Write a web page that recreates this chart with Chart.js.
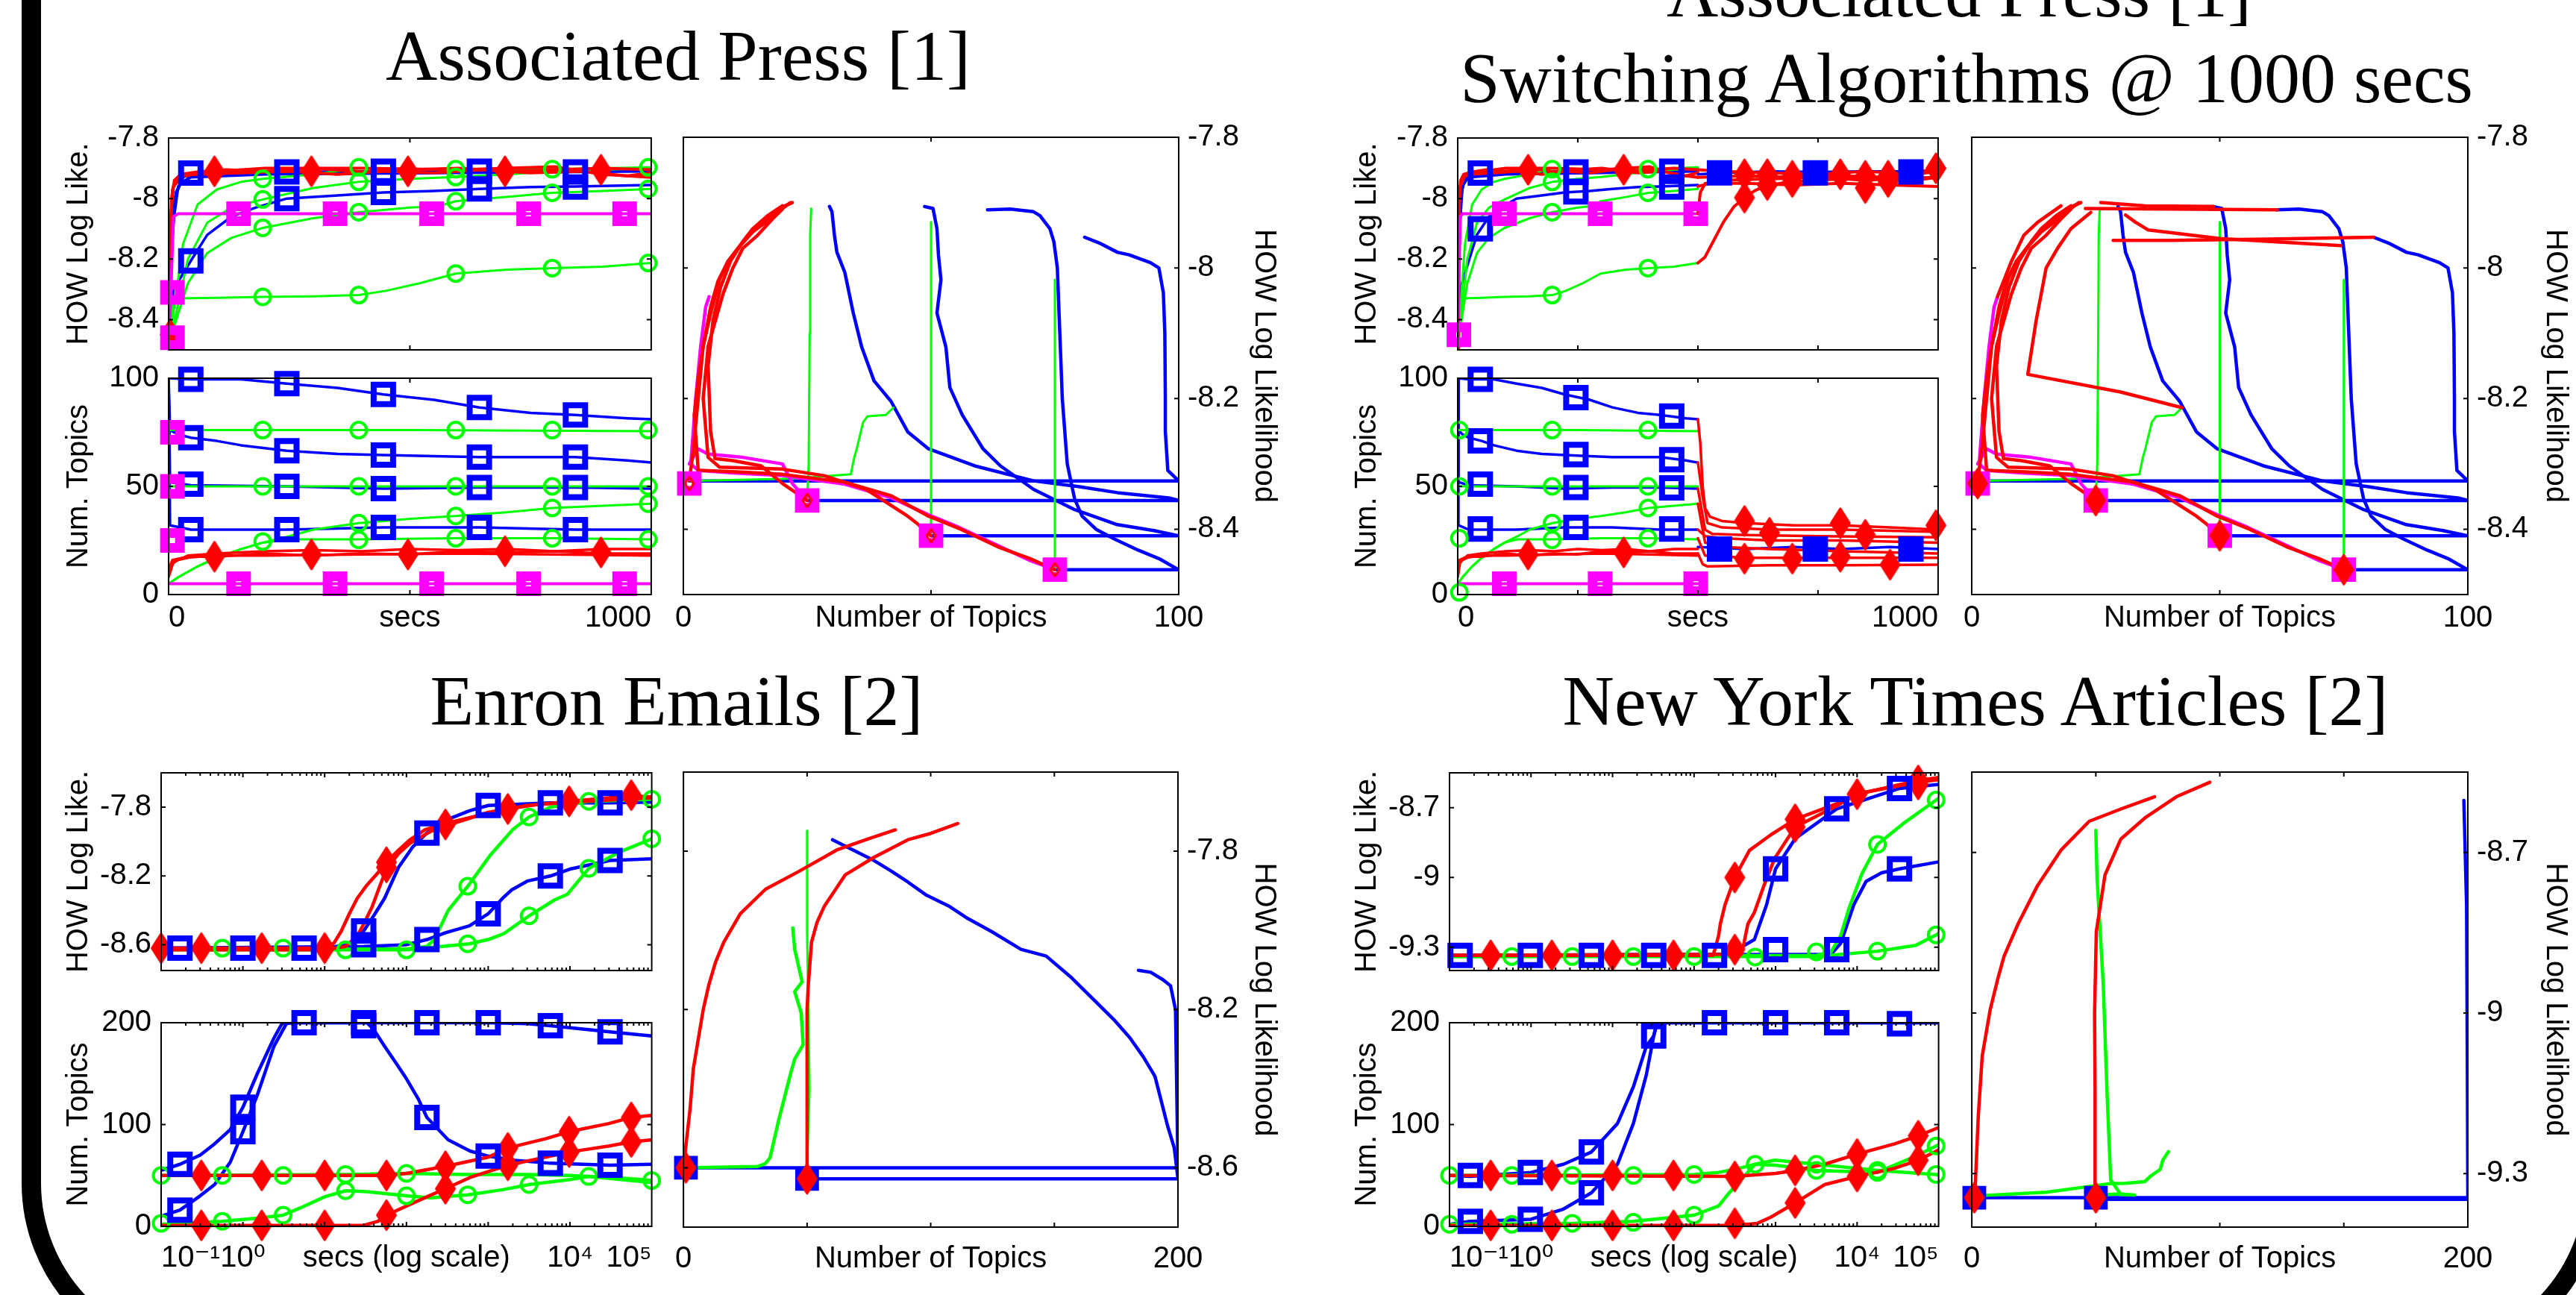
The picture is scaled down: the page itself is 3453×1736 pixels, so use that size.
<!DOCTYPE html>
<html><head><meta charset="utf-8">
<script src="https://cdn.jsdelivr.net/npm/chart.js@4.4.1/dist/chart.umd.min.js"></script>
<style>
html,body{margin:0;padding:0;background:#fff;}
body{position:relative;width:3453px;height:1736px;overflow:hidden;}
.ttl{position:absolute;width:2000px;text-align:center;font-family:'Liberation Serif','Times New Roman',serif;font-size:96px;line-height:96px;color:#000;white-space:nowrap;}
#frame{position:absolute;left:29px;top:-300px;width:3462px;height:2132px;box-sizing:border-box;border:26px solid #000;border-radius:246px;}
</style></head><body>
<div id="frame"></div>
<div class="ttl" style="left:-91px;top:27px">Associated Press [1]</div>
<div class="ttl" style="left:1626px;top:-58px">Associated Press [1]</div>
<div class="ttl" style="left:1636px;top:57px">Switching Algorithms @ 1000 secs</div>
<div class="ttl" style="left:-93px;top:892px">Enron Emails [2]</div>
<div class="ttl" style="left:1648px;top:892px">New York Times Articles [2]</div>
<script>
// ================= DATA =================
// ---- tick values / labels ----
const apSecsTicks = [0, 500, 1000];
const apSecsLabels = ['0', 'secs', '1000'];
const apsSecsTicks = [0, 500, 1000, 1500, 2000];
const apsSecsLabels = ['0', '', 'secs', '', '1000'];
const logTicks = [0.1, 1, 10, 100, 1000, 10000, 100000];
const logLabels = ['10\u207B\u00B9', '10\u2070', '', 'secs (log scale)', '', '10\u2074', '10\u2075'];
const apLLTicks = [-7.8, -8, -8.2, -8.4];
const apLLLabels = ['-7.8', '-8', '-8.2', '-8.4'];
const apTopTicks = [0, 50, 100];
const apTopLabels = ['0', '50', '100'];
const apTopicsXTicks = [0, 50, 100];
const apTopicsXLabels = ['0', 'Number of Topics', '100'];
const bigTopTicks = [0, 100, 200];
const bigTopLabels = ['0', '100', '200'];
const bigTopicsXTicks = [0, 50, 100, 150, 200];
const bigTopicsXLabels = ['0', '', 'Number of Topics', '', '200'];
const enLLTicks = [-7.8, -8.2, -8.6];
const enLLLabels = ['-7.8', '-8.2', '-8.6'];
const nyLLTicks = [-8.7, -9, -9.3];
const nyLLLabels = ['-8.7', '-9', '-9.3'];

// ---- Associated Press: log likelihood vs secs ----
const apLL_red1 = [[0,-8.5],[3,-8.2],[6,-8.0],[12,-7.94],[25,-7.92],[60,-7.912],[120,-7.905],[200,-7.91],[300,-7.9],[400,-7.912],[500,-7.905],[600,-7.9],[700,-7.91],[800,-7.905],[900,-7.9],[1000,-7.905]];
const apLL_red2 = [[0,-8.45],[4,-8.1],[8,-7.97],[20,-7.93],[50,-7.92],[150,-7.915],[250,-7.91],[350,-7.92],[450,-7.91],[550,-7.915],[650,-7.905],[750,-7.915],[850,-7.91],[950,-7.925],[1000,-7.915]];
const apLL_red3 = [[0,-8.4],[5,-8.05],[10,-7.96],[30,-7.925],[100,-7.91],[200,-7.9],[400,-7.9],[600,-7.905],[800,-7.895],[900,-7.92],[1000,-7.93]];
const apLL_redMk = [[3,-8.45],[95,-7.91],[296,-7.91],[496,-7.91],[697,-7.91],[896,-7.905]];
const apLL_blue1 = [[0,-8.5],[5,-8.2],[15,-7.98],[30,-7.93],[46,-7.92],[100,-7.915],[245,-7.912],[445,-7.91],[644,-7.91],[843,-7.91],[1000,-7.908]];
const apLL_blue2 = [[0,-8.48],[8,-8.1],[20,-7.96],[46,-7.925],[150,-7.92],[300,-7.915],[500,-7.915],[700,-7.91],[1000,-7.905]];
const apLL_blue3 = [[0,-8.5],[10,-8.3],[46,-8.206],[80,-8.12],[130,-8.06],[180,-8.03],[245,-8.0],[350,-7.99],[445,-7.98],[550,-7.975],[644,-7.968],[750,-7.962],[843,-7.96],[1000,-7.955]];
const apLL_blue4 = [[0,-8.45],[6,-8.15],[12,-8.0],[25,-7.95],[46,-7.93],[200,-7.92],[600,-7.915],[1000,-7.91]];
const apLL_blueMk = [[46,-7.916],[245,-7.912],[445,-7.91],[644,-7.91],[843,-7.912],[46,-8.206],[245,-8.0],[445,-7.98],[644,-7.968],[843,-7.962]];
const apLL_grn1 = [[0,-8.5],[8,-8.4],[30,-8.15],[60,-8.02],[100,-7.97],[150,-7.945],[195,-7.935],[300,-7.92],[394,-7.9],[500,-7.905],[595,-7.903],[700,-7.905],[795,-7.903],[900,-7.9],[1000,-7.897]];
const apLL_grn2 = [[0,-8.5],[10,-8.42],[40,-8.2],[80,-8.08],[130,-8.03],[195,-8.003],[300,-7.965],[394,-7.945],[500,-7.935],[595,-7.929],[700,-7.92],[795,-7.91],[900,-7.905],[1000,-7.9]];
const apLL_grn3 = [[0,-8.5],[12,-8.42],[40,-8.28],[80,-8.18],[130,-8.13],[195,-8.097],[300,-8.065],[394,-8.045],[500,-8.03],[560,-8.025],[595,-8.009],[700,-7.995],[795,-7.981],[900,-7.975],[1000,-7.968]];
const apLL_grn4 = [[0,-8.5],[10,-8.33],[100,-8.328],[195,-8.325],[300,-8.323],[394,-8.319],[450,-8.305],[520,-8.28],[595,-8.248],[700,-8.235],[795,-8.23],[900,-8.225],[1000,-8.213]];
const apLL_grnMk = [[195,-7.935],[195,-8.003],[195,-8.097],[195,-8.325],[394,-7.897],[394,-7.945],[394,-8.045],[394,-8.319],[595,-7.903],[595,-7.929],[595,-8.009],[595,-8.248],[795,-7.903],[795,-7.981],[795,-8.23],[994,-7.897],[994,-7.968],[994,-8.213]];
const apLL_mag = [[0,-8.5],[5,-8.3],[10,-8.06],[20,-8.05],[500,-8.05],[1000,-8.05]];
const apLL_magMk = [[8,-8.31],[8,-8.46],[145,-8.05],[345,-8.05],[545,-8.05],[746,-8.05],[945,-8.05]];

// ---- Associated Press: number of topics vs secs ----
const apT_blue1 = [[0,100],[46,99.5],[150,99.5],[245,97.5],[350,95.5],[445,92.5],[550,90],[644,86.5],[750,84],[843,83],[950,81.5],[1000,81]];
const apT_blue2 = [[0,100],[3,76],[20,74],[46,72.5],[100,71],[150,69],[245,66.5],[350,65],[445,64.5],[550,64],[644,63.5],[750,63.5],[843,63.5],[950,62],[1000,61]];
const apT_blue3 = [[0,100],[3,52],[46,50.5],[245,50],[445,49],[644,49.5],[843,49.5],[1000,49]];
const apT_blue4 = [[0,100],[3,32],[46,30],[245,30],[445,31],[644,31],[843,30],[1000,30]];
const apT_blueMk = [[46,99.5],[245,97.5],[445,92.5],[644,86.5],[843,83],[46,72.5],[245,66.5],[445,64.5],[644,63.5],[843,63.5],[46,51],[245,50],[445,49],[644,49.5],[843,49.5],[46,30],[245,30],[445,31],[644,31],[843,30]];
const apT_grn1 = [[0,76],[500,76],[1000,75.5]];
const apT_grn2 = [[0,50],[500,50],[1000,50]];
const apT_grn3 = [[0,5],[20,8],[60,13],[100,17],[150,21],[195,24],[250,25.5],[394,25.5],[595,26],[795,26],[1000,25.5]];
const apT_grn4 = [[0,5],[20,8],[60,13],[100,17],[150,21],[195,24],[250,27],[300,30],[394,33],[500,35],[595,36.3],[700,38],[795,40],[900,41],[1000,42]];
const apT_grnMk = [[195,76],[394,76],[595,76],[795,76],[994,76],[195,50],[394,50],[595,50],[795,50],[994,50],[195,24.5],[394,25.3],[595,26],[795,26],[994,25.5],[394,33],[595,36.3],[795,40],[994,42]];
const apT_red1 = [[0,10],[5,14],[20,16],[50,17.5],[95,17.5],[200,19],[296,18],[400,19],[496,18.5],[600,20],[697,19.5],[800,20],[896,19],[1000,19]];
const apT_red2 = [[0,8],[10,15],[40,18],[100,19],[200,20],[300,20.5],[400,20],[500,21],[600,20.5],[700,21],[800,20],[900,21],[1000,21]];
const apT_red3 = [[0,12],[8,16],[30,17],[100,18],[200,18],[400,18.5],[600,19],[800,18.5],[1000,18]];
const apT_redMk = [[95,17.5],[296,18.5],[496,18.5],[697,20],[896,19.5]];
const apT_mag = [[0,5],[1000,5]];
const apT_magMk = [[145,5],[345,5],[545,5],[746,5],[945,5],[8,75],[8,50],[8,25]];

// ---- Associated Press: LL vs number of topics ----
const apR_blue1 = [[1.2,-8.326],[100,-8.326],[97.8,-8.31],[97.3,-8.25],[97.3,-8.2],[97.2,-8.1],[96.9,-8.038],[96,-8.0],[94.3,-7.992],[90,-7.98],[87.6,-7.976],[84,-7.962],[81,-7.953]];
const apR_blue2 = [[75,-8.462],[100,-8.462],[96,-8.445],[91.8,-8.432],[87,-8.415],[83.3,-8.4],[80.5,-8.38],[79,-8.354],[77.5,-8.3],[76.5,-8.2],[76,-8.1],[75.5,-8.0],[74.8,-7.96],[74,-7.94],[72,-7.92],[70.7,-7.914],[66,-7.91],[61.4,-7.911]];
const apR_blue3 = [[50,-8.41],[100,-8.41],[95,-8.402],[87.6,-8.393],[79,-8.37],[70.7,-8.339],[64,-8.303],[60.5,-8.277],[56.3,-8.225],[53.8,-8.183],[53,-8.121],[51.2,-8.069],[52,-8.018],[51.5,-7.98],[51.2,-7.94],[50.4,-7.909],[48.7,-7.906]];
const apR_blue4 = [[25,-8.356],[100,-8.356],[98,-8.352],[87.6,-8.344],[80,-8.335],[70.7,-8.326],[58.8,-8.303],[49.5,-8.277],[45.3,-8.251],[41.9,-8.204],[38.5,-8.173],[36,-8.121],[34.3,-8.069],[32.6,-8.007],[31,-7.976],[30.5,-7.95],[30,-7.914],[29.5,-7.906]];
const apR_grn1 = [[25,-8.356],[25.3,-8.3],[25.5,-8.1],[25.6,-7.95],[25.8,-7.909]];
const apR_grn2 = [[50,-8.41],[50,-8.2],[50,-8.0],[50,-7.93]];
const apR_grn3 = [[75,-8.462],[75,-8.3],[75,-8.1],[75,-8.018]];
const apR_grn4 = [[1.2,-8.326],[20,-8.323],[25,-8.321],[33.8,-8.316],[34.5,-8.29],[35,-8.277],[36.3,-8.236],[37.2,-8.227],[40.9,-8.225],[42.4,-8.214]];
const apR_red1 = [[75,-8.462],[70,-8.445],[63.5,-8.427],[56,-8.4],[49.5,-8.38],[42,-8.349],[32.6,-8.328],[20,-8.316],[10,-8.312],[3,-8.31],[2.2,-8.225],[3,-8.17],[4,-8.12],[5.5,-8.07],[7.3,-8.018],[9,-7.99],[11.5,-7.966],[14,-7.945],[16.6,-7.93],[19,-7.915],[21.6,-7.9]];
const apR_red2 = [[50,-8.41],[47,-8.39],[45.3,-8.38],[36.9,-8.339],[28.4,-8.318],[20,-8.308],[7.3,-8.305],[5,-8.29],[4,-8.2],[5,-8.12],[6.5,-8.08],[8,-8.04],[10,-8.0],[12,-7.97],[15,-7.95],[18,-7.925],[20,-7.91]];
const apR_red3 = [[25,-8.356],[20,-8.33],[15.7,-8.303],[10,-8.295],[6.4,-8.292],[5.5,-8.25],[5,-8.15],[6,-8.08],[7.5,-8.03],[9.5,-7.99],[12,-7.96],[14,-7.94],[17,-7.92],[20,-7.905]];
const apR_red4 = [[1.2,-8.326],[2,-8.28],[3,-8.2],[4,-8.12],[5.5,-8.06],[7,-8.02],[9,-7.99],[11,-7.97],[13,-7.95],[16,-7.93],[19,-7.91],[22,-7.9]];
const apR_mag1 = [[75,-8.462],[70,-8.448],[63.5,-8.425],[55,-8.395],[49.5,-8.378],[42,-8.352],[32.6,-8.331],[20,-8.318],[10,-8.314],[3,-8.31],[1.5,-8.3],[2.5,-8.2],[3.5,-8.12],[4.5,-8.06],[5.2,-8.044]];
const apR_mag2 = [[25,-8.356],[22,-8.33],[20,-8.3],[12,-8.29],[5,-8.285],[3,-8.277],[1.2,-8.3]];
const apR_startMk = [[1.2,-8.33],[25,-8.356],[50,-8.41],[75,-8.462]];

// ---- AP switching: extra marks and post-switch runs ----
const apsLL_blueMk = [[94,-7.916],[492,-7.912],[891,-7.91],[94,-8.1],[492,-7.978],[891,-7.962]];
const apsLL_grnMk = [[393,-7.903],[393,-7.945],[393,-8.045],[393,-8.319],[792,-7.903],[792,-7.981],[792,-8.23]];
const apsLL_magMk = [[5,-8.45],[194,-8.05],[593,-8.05],[991,-8.05]];
const apsLL_redMk = [[293,-7.905],[691,-7.905],[1194,-7.92],[1289,-7.92],[1393,-7.925],[1593,-7.92],[1697,-7.925],[1792,-7.925],[1991,-7.9],[1194,-7.997],[1289,-7.955],[1393,-7.945],[1697,-7.965],[1792,-7.945]];
const apsLL_blueFMk = [[1090,-7.915],[1489,-7.915],[1887,-7.912]];
const apsLL_post_red1 = [[1000,-8.213],[1029,-8.194],[1055,-8.155],[1107,-8.077],[1151,-8.026],[1194,-7.997],[1237,-7.974],[1289,-7.955],[1393,-7.945],[1500,-7.94],[1600,-7.935],[1700,-7.94],[1800,-7.935],[1900,-7.94],[2000,-7.93]];
const apsLL_post_red2 = [[1000,-8.05],[1010,-7.98],[1030,-7.95],[1100,-7.94],[1300,-7.935],[1500,-7.93],[1700,-7.935],[2000,-7.93]];
const apsLL_post_red3 = [[1000,-7.905],[1100,-7.91],[1300,-7.915],[1500,-7.92],[1700,-7.91],[1900,-7.92],[2000,-7.91]];
const apsLL_post_red4 = [[1000,-7.96],[1050,-7.95],[1200,-7.95],[1400,-7.955],[1600,-7.95],[1800,-7.955],[2000,-7.96]];
const apsLL_post_red5 = [[1000,-7.93],[1200,-7.925],[1400,-7.93],[1600,-7.925],[1800,-7.93],[2000,-7.9]];
const apsLL_post_blue = [[1000,-7.92],[1100,-7.915],[1300,-7.91],[1500,-7.912],[1700,-7.91],[1900,-7.91],[2000,-7.905]];
const apsT_blueMk = [[94,99.5],[492,91],[891,82.5],[94,71],[492,64.7],[891,62.3],[94,51],[492,49.5],[891,49.3],[94,30.3],[492,31],[891,30.3]];
const apsT_grnMk = [[7,76],[7,50],[7,26],[7,1],[393,76],[792,76],[393,50],[792,50],[393,25.3],[792,26],[393,33],[792,40]];
const apsT_redMk = [[293,18.5],[691,19.5],[1194,34],[1194,16.6],[1298,28.5],[1393,16.6],[1593,33],[1593,17.5],[1697,27.6],[1800,13.8],[1991,32]];
const apsT_magMk = [[194,5],[593,5],[991,5]];
const apsT_blueFMk = [[1090,21],[1489,21],[1887,21]];
const apsT_post_red1 = [[1000,81],[1010,70],[1020,50],[1030,40],[1050,36],[1100,34],[1200,33],[1400,32],[1600,32],[1800,31],[2000,30]];
const apsT_post_red2 = [[1000,61],[1020,45],[1040,33],[1100,31],[1300,30],[1600,30],[2000,29]];
const apsT_post_red3 = [[1000,49],[1030,30],[1060,28],[1200,27.5],[1500,27],[2000,26.5]];
const apsT_post_red4 = [[1000,42],[1030,24],[1100,22],[1300,21],[1600,20],[2000,19]];
const apsT_post_red5 = [[1000,26],[1030,18],[1200,17],[1500,17],[2000,17]];
const apsT_post_red6 = [[1000,19],[1020,14],[1040,13],[1300,13.5],[1600,13.5],[2000,13.8]];
const apsT_post_red7 = [[1000,30],[1030,27],[1100,26],[1300,25],[1600,25],[2000,24]];
const apsT_post_blue = [[1000,22],[1200,21],[1400,22],[1600,21],[1800,22],[2000,21]];
const apsR_red5 = [[81,-7.953],[60,-7.956],[40,-7.958],[28.5,-7.958]];
const apsR_red6 = [[61.6,-7.911],[40,-7.91],[22.9,-7.909]];
const apsR_red7 = [[74.4,-7.966],[50,-7.955],[35.6,-7.942],[33,-7.93],[31,-7.919]];
const apsR_red8 = [[42.4,-8.214],[30,-8.19],[11.3,-8.163],[13,-8.08],[15,-8.0],[17.3,-7.97],[20,-7.94],[24,-7.915]];
const apsR_red9 = [[48.7,-7.906],[35,-7.905],[26,-7.9]];
const apsR_red10 = [[5.2,-8.044],[8,-7.99],[10.5,-7.95],[13.3,-7.93],[18,-7.905]];

// ---- Enron: LL vs secs (log) ----
const enLL_red1 = [[0.1,-8.62],[1,-8.62],[10,-8.62],[13,-8.59],[16,-8.52],[20,-8.42],[25,-8.33],[32,-8.26],[45,-8.18],[57,-8.12],[80,-8.05],[110,-7.99],[170,-7.93],[300,-7.895],[600,-7.86],[1738,-7.81],[4000,-7.785],[9772,-7.766],[30000,-7.745],[56234,-7.735],[100000,-7.74]];
const enLL_red2 = [[0.1,-8.63],[10,-8.63],[18,-8.61],[25,-8.55],[30,-8.48],[38,-8.38],[48,-8.25],[57,-8.16],[80,-8.07],[110,-8.01],[200,-7.94],[316,-7.905],[1000,-7.83],[3000,-7.79],[10000,-7.77],[100000,-7.745]];
const enLL_redMk = [[0.1,-8.62],[0.31,-8.62],[1.7,-8.62],[10,-8.62],[57,-8.12],[57,-8.15],[300,-7.9],[1738,-7.81],[9772,-7.766],[56234,-7.73]];
const enLL_blue1 = [[0.1,-8.62],[10,-8.62],[20,-8.6],[30,-8.52],[40,-8.43],[54,-8.33],[80,-8.15],[120,-8.03],[178,-7.95],[324,-7.87],[600,-7.82],[1000,-7.79],[5754,-7.775],[30903,-7.775],[100000,-7.77]];
const enLL_blue2 = [[0.1,-8.62],[30,-8.61],[100,-8.6],[178,-8.57],[300,-8.53],[589,-8.49],[800,-8.45],[1000,-8.42],[1500,-8.33],[1950,-8.28],[3000,-8.23],[5754,-8.2],[10000,-8.16],[30903,-8.11],[100000,-8.1]];
const enLL_blueMk = [[0.17,-8.62],[1,-8.62],[5.6,-8.62],[30,-8.52],[30,-8.6],[178,-7.95],[178,-8.57],[1000,-7.79],[1000,-8.42],[5754,-7.775],[5754,-8.2],[30903,-7.775],[30903,-8.11]];
const enLL_grn1 = [[0.1,-8.625],[100,-8.625],[178,-8.61],[220,-8.57],[324,-8.4],[562,-8.26],[1072,-8.076],[2000,-7.93],[3162,-7.857],[5754,-7.8],[16982,-7.766],[100000,-7.754]];
const enLL_grn2 = [[0.1,-8.63],[100,-8.63],[589,-8.595],[1000,-8.57],[1549,-8.536],[3162,-8.432],[6457,-8.34],[9333,-8.306],[16982,-8.156],[38905,-8.064],[100000,-7.984]];
const enLL_grnMk = [[0.56,-8.62],[3.1,-8.62],[18,-8.63],[100,-8.63],[562,-8.26],[562,-8.595],[3162,-7.857],[3162,-8.432],[16982,-7.766],[16982,-8.156],[100000,-7.754],[100000,-7.984]];

// ---- Enron: topics vs secs (log) ----
const enT_blue1 = [[0.1,55],[0.17,61],[0.3,70],[0.45,81],[0.7,95],[1,117],[1.5,150],[2.4,185],[3,199],[3.5,200],[33,200],[40,193],[54,177],[75,160],[100,145],[140,125],[178,107],[324,85],[600,74],[1000,69],[2000,65],[5754,62],[30903,60],[100000,61]];
const enT_blue2 = [[0.1,10],[0.17,16],[0.3,30],[0.45,41],[0.7,63],[1,93],[1.5,129],[2.4,177],[3.4,199],[4,200],[1000,200],[3000,199],[5754,197],[30903,191],[100000,187]];
const enT_blueMk = [[0.17,61],[1,117],[5.6,200],[30,200],[178,107],[1000,69],[5754,62],[30903,60],[0.17,16],[1,93],[30,197],[178,200],[1000,200],[5754,197],[30903,191]];
const enT_red1 = [[0.1,50],[57,50],[100,52],[300,59],[1000,68],[1738,77],[5000,86],[9772,93],[30000,101],[56234,107],[100000,109]];
const enT_red2 = [[0.1,1],[10,1],[30,1],[45,5],[57,11],[100,20],[178,29],[300,37],[600,48],[1738,60],[5000,68],[9772,73],[30000,79],[56234,83],[100000,85]];
const enT_redMk = [[0.31,50],[1.7,50],[10,50],[57,50],[300,59],[1738,77],[9772,93],[56234,107],[0.31,1],[1.7,1],[10,1],[57,11],[300,37],[1738,60],[9772,73],[56234,83]];
const enT_grn1 = [[0.1,50],[18,51],[100,52],[562,51],[3162,51],[10000,50],[16982,49],[50000,47],[100000,45]];
const enT_grn2 = [[0.1,2],[0.56,5],[1.5,8],[3.1,11],[5,18],[10,29],[18,35],[33,34],[100,30],[200,28],[562,31],[1500,36],[3162,41],[10000,46],[16982,49],[100000,43]];
const enT_grnMk = [[0.1,50],[0.56,50],[3.1,50],[18,51],[100,52],[0.1,3],[0.56,5],[3.1,11],[18,35],[100,30],[562,31],[3162,41],[16982,49],[100000,45]];

// ---- Enron: LL vs topics ----
const enR_redA = [[0,-8.6],[2.7,-8.45],[4,-8.35],[6.1,-8.271],[8,-8.2],[10.3,-8.137],[13,-8.08],[16.3,-8.03],[23,-7.958],[33.2,-7.896],[46.7,-7.851],[62,-7.797],[73.8,-7.771],[85.7,-7.746]];
const enR_redB = [[50,-8.628],[50,-8.4],[50,-8.2],[50.5,-8.137],[51.8,-8.03],[54,-7.98],[56.9,-7.94],[65.4,-7.86],[77.2,-7.815],[90.8,-7.771],[100,-7.755],[111,-7.73]];
const enR_grnA = [[50,-8.6],[51,-8.4],[50.5,-8.2],[50,-8.0],[50,-7.748]];
const enR_grnB = [[0,-8.6],[29.8,-8.597],[33,-8.59],[35,-8.575],[38.3,-8.485],[43.4,-8.36],[45,-8.325],[48.4,-8.289],[47.6,-8.208],[45,-8.155],[48,-8.13],[45,-8.048],[44.2,-7.994]];
const enR_blueA = [[0,-8.6],[200,-8.6],[199.5,-8.4],[199,-8.2],[197,-8.14],[194,-8.125],[189,-8.106],[184,-8.101]];
const enR_blueB = [[50,-8.628],[200,-8.628],[198.5,-8.55],[195.8,-8.494],[190.7,-8.369],[186,-8.32],[180.5,-8.271],[174,-8.225],[167,-8.182],[157,-8.12],[146.7,-8.065],[136.5,-8.048],[124.6,-8.003],[115,-7.97],[107.7,-7.94],[98,-7.91],[90.8,-7.878],[84,-7.85],[77.2,-7.824],[68,-7.795],[60.3,-7.771]];
const enR_startMk = [[1,-8.6],[50,-8.628]];

// ---- NYT: LL vs secs (log) ----
const nyLL_red1 = [[0.1,-9.335],[170,-9.335],[180,-9.31],[200,-9.25],[210,-9.2],[240,-9.117],[316,-9.0],[479,-8.883],[871,-8.817],[1738,-8.75],[5623,-8.683],[10000,-8.642],[56234,-8.583],[100000,-8.57]];
const nyLL_red2 = [[0.1,-9.335],[380,-9.33],[400,-9.3],[457,-9.2],[550,-9.15],[724,-9.033],[977,-8.917],[1738,-8.783],[5623,-8.692],[10000,-8.64],[56234,-8.59],[100000,-8.58]];
const nyLL_redMk = [[0.32,-9.335],[1.8,-9.335],[10,-9.335],[56,-9.335],[316,-9.0],[316,-9.31],[1738,-8.75],[1738,-8.783],[10000,-8.642],[56234,-8.583],[56234,-8.6]];
const nyLL_blue1 = [[0.1,-9.335],[270,-9.33],[550,-9.267],[776,-9.117],[1000,-8.963],[1738,-8.833],[5623,-8.705],[33113,-8.617],[100000,-8.6]];
const nyLL_blue2 = [[0.1,-9.335],[4786,-9.33],[6310,-9.283],[9120,-9.117],[12882,-9.017],[20000,-8.98],[33113,-8.963],[100000,-8.933]];
const nyLL_blueMk = [[0.135,-9.335],[0.98,-9.335],[5.5,-9.335],[32,-9.335],[178,-9.335],[1000,-8.963],[1000,-9.31],[5623,-8.705],[5623,-9.31],[33113,-8.617],[33113,-8.963]];
const nyLL_grn1 = [[0.1,-9.34],[3162,-9.335],[4786,-9.32],[6310,-9.25],[7943,-9.133],[11482,-8.983],[17783,-8.858],[37154,-8.767],[93325,-8.667],[100000,-8.66]];
const nyLL_grn2 = [[0.1,-9.34],[3162,-9.34],[17783,-9.317],[52481,-9.292],[93325,-9.247],[100000,-9.24]];
const nyLL_grnMk = [[0.58,-9.34],[3.2,-9.34],[18,-9.34],[100,-9.34],[562,-9.342],[3162,-9.32],[17783,-8.858],[17783,-9.317],[93325,-8.667],[93325,-9.247]];

// ---- NYT: topics vs secs (log) ----
const nyT_blue1 = [[0.1,50],[0.18,49],[1,53],[2.5,61],[5.5,73],[11.5,101],[18,137],[26,177],[32,187],[35,199],[40,200],[100000,200]];
const nyT_blue2 = [[0.1,2],[0.18,5],[1,7],[2.5,17],[5.5,33],[11.5,61],[18,101],[26,149],[32,187],[35,200],[100000,200]];
const nyT_blueMk = [[0.18,50],[0.98,53],[5.5,73],[32,187],[0.18,5],[0.98,7],[5.5,33],[178,200],[1000,200],[5623,200],[33113,199]];
const nyT_red1 = [[0.1,50],[316,49],[1000,52],[1738,55],[3981,61],[10000,71],[28840,81],[56234,89],[100000,97]];
const nyT_red2 = [[0.1,1],[316,1],[600,3],[871,9],[1738,23],[3981,41],[10000,49],[28840,57],[56234,65],[100000,75]];
const nyT_redMk = [[0.32,50],[1.8,50],[10,50],[56,50],[316,49],[1738,55],[10000,71],[56234,89],[0.32,1],[1.8,1],[10,1],[56,1],[316,3],[1738,23],[10000,49],[56234,65]];
const nyT_grn1 = [[0.1,50],[100,51],[200,53],[316,56],[562,61],[977,65],[3162,61],[17783,55],[93325,51],[100000,50]];
const nyT_grn2 = [[0.1,2],[3.2,3],[18,5],[100,11],[200,20],[270,33],[400,48],[562,61],[1000,60],[3162,55],[17783,53],[52481,69],[93325,79],[100000,80]];
const nyT_grnMk = [[0.1,50],[0.58,50],[3.2,50],[18,50],[100,51],[562,61],[3162,61],[17783,55],[93325,51],[0.1,2],[0.58,2],[3.2,3],[18,4],[100,11],[3162,55],[17783,53],[93325,79]];

// ---- NYT: LL vs topics ----
const nyR_redA = [[1,-9.365],[2.6,-9.193],[4.2,-9.08],[7.4,-8.994],[10.6,-8.934],[13,-8.894],[18.5,-8.835],[26.5,-8.762],[36.1,-8.695],[47.3,-8.642],[60.1,-8.619],[73.7,-8.596]];
const nyR_redB = [[49.7,-9.345],[49.7,-9.146],[49.5,-9.0],[50.2,-8.848],[53.7,-8.742],[60.1,-8.675],[69.7,-8.636],[82.5,-8.596],[96,-8.569]];
const nyR_grnA = [[50,-9.34],[60,-9.338],[65.7,-9.34],[60.1,-9.339],[56,-9.312],[54.5,-9.146],[53,-8.947],[50.5,-8.748],[50,-8.659]];
const nyR_grnB = [[0,-9.342],[30,-9.335],[55.3,-9.319],[62,-9.318],[69.7,-9.315],[72,-9.305],[76,-9.292],[77,-9.275],[79.3,-9.259]];
const nyR_blueA = [[0,-9.345],[200,-9.345],[199.8,-9.1],[199.5,-8.8],[198.4,-8.603]];
const nyR_blueB = [[50,-9.348],[200,-9.348]];
const nyR_startMk = [[1,-9.345],[50,-9.345]];

// ================= DRAWING =================
Chart.defaults.font.family = "'Liberation Sans', Arial, 'DejaVu Sans', sans-serif";
Chart.defaults.color = '#000';
const BLUE = '#0000ff', RED = '#ff0000', GREEN = '#00ff00', MAG = '#ff00ff', NONE = 'rgba(0,0,0,0)';
const TICK_FONT = {size: 40};
const AXIS_FONT = {size: 40};

function diamond(w, h, lw, color, filled) {
  const c = document.createElement('canvas');
  c.width = Math.ceil(w + lw + 2); c.height = Math.ceil(h + lw + 2);
  const g = c.getContext('2d');
  const cx = c.width / 2, cy = c.height / 2;
  g.strokeStyle = color; g.fillStyle = color; g.lineWidth = lw; g.lineJoin = 'bevel';
  g.beginPath();
  g.moveTo(cx, cy - h / 2); g.lineTo(cx + w / 2, cy); g.lineTo(cx, cy + h / 2); g.lineTo(cx - w / 2, cy); g.closePath();
  if (filled) g.fill();
  g.stroke();
  return c;
}
const sqB = {pointStyle: 'rect', pointRadius: 18.4, pointBorderWidth: 8, pointBorderColor: BLUE, pointBackgroundColor: NONE};
const sqBF = {pointStyle: 'rect', pointRadius: 18.4, pointBorderWidth: 8, pointBorderColor: BLUE, pointBackgroundColor: BLUE};
const sqM = {pointStyle: 'rect', pointRadius: 14.1, pointBorderWidth: 13, pointBorderColor: MAG, pointBackgroundColor: NONE};
const ciG = {pointStyle: 'circle', pointRadius: 10.5, pointBorderWidth: 4, pointBorderColor: GREEN, pointBackgroundColor: NONE};
const diR = {pointStyle: diamond(26, 41, 2, RED, true), pointRadius: 10};
const sqMR = {pointStyle: 'rect', pointRadius: 14, pointBorderWidth: 13, pointBorderColor: MAG, pointBackgroundColor: NONE};
const sqBR = {pointStyle: 'rect', pointRadius: 14, pointBorderWidth: 12, pointBorderColor: BLUE, pointBackgroundColor: NONE};
const diRs = {pointStyle: diamond(12, 18, 3, RED, false), pointRadius: 6};

function L(arr, color, w) {
  return {data: arr.map(p => ({x: p[0], y: p[1]})), borderColor: color, borderWidth: w, pointRadius: 0,
          showLine: true, fill: false, tension: 0, borderJoinStyle: 'round', borderCapStyle: 'round'};
}
function M(arr, st) {
  return Object.assign({data: arr.map(p => ({x: p[0], y: p[1]})), showLine: false, clip: false}, st);
}

const boxPlugin = {
  id: 'boxTicks',
  afterDraw(chart) {
    const {ctx, chartArea: a} = chart;
    const xs = chart.scales.x, ys = chart.scales.y;
    const T = 6, T2 = 4;
    const vx = p => p > a.left + 2 && p < a.right - 2;
    const vy = p => p > a.top + 2 && p < a.bottom - 2;
    ctx.save();
    ctx.strokeStyle = '#000'; ctx.lineWidth = 2;
    ctx.beginPath();
    for (const t of xs.ticks) {
      const p = xs.getPixelForValue(t.value); if (!vx(p)) continue;
      ctx.moveTo(p, a.bottom); ctx.lineTo(p, a.bottom - T); ctx.moveTo(p, a.top); ctx.lineTo(p, a.top + T);
    }
    for (const t of ys.ticks) {
      const p = ys.getPixelForValue(t.value); if (!vy(p)) continue;
      ctx.moveTo(a.left, p); ctx.lineTo(a.left + T, p); ctx.moveTo(a.right, p); ctx.lineTo(a.right - T, p);
    }
    if (xs.type === 'logarithmic') {
      const d0 = Math.floor(Math.log10(xs.min)), d1 = Math.ceil(Math.log10(xs.max));
      for (let d = d0; d < d1; d++) for (let k = 2; k < 10; k++) {
        const p = xs.getPixelForValue(k * Math.pow(10, d)); if (!vx(p)) continue;
        ctx.moveTo(p, a.bottom); ctx.lineTo(p, a.bottom - T2); ctx.moveTo(p, a.top); ctx.lineTo(p, a.top + T2);
      }
    }
    ctx.stroke();
    ctx.strokeRect(a.left, a.top, a.right - a.left, a.bottom - a.top);
    ctx.restore();
  }
};

function labeler(vals, labels) {
  return v => { const i = vals.findIndex(t => Math.abs(t - v) <= 1e-9 * Math.max(1, Math.abs(t))); return i < 0 ? '' : labels[i]; };
}

function mk(s) {
  const cv = s.cv, box = s.box, W = cv.r - cv.l, H = cv.b - cv.t;
  const c = document.createElement('canvas');
  c.width = W; c.height = H;
  c.style.cssText = `position:absolute;left:${cv.l}px;top:${cv.t}px;width:${W}px;height:${H}px;`;
  document.body.appendChild(c);
  const right = s.yPos === 'right';
  new Chart(c, {
    type: 'scatter',
    data: {datasets: s.ds.slice().reverse()},
    options: {
      responsive: false, maintainAspectRatio: false, animation: false, devicePixelRatio: 1, events: [],
      layout: {padding: {left: right ? box.l - cv.l : 0, right: right ? 0 : cv.r - box.r, top: box.t - cv.t, bottom: 0}},
      plugins: {legend: {display: false}, tooltip: {enabled: false}, title: {display: false}},
      scales: {
        x: {type: s.xType || 'linear', position: 'bottom', min: s.xMin, max: s.xMax,
            grid: {display: false, drawTicks: false}, border: {display: false},
            afterBuildTicks: sc => { sc.ticks = s.xTicks.map(v => ({value: v})); },
            afterFit: sc => { sc.height = cv.b - box.b; },
            ticks: {display: !!s.xLabels, autoSkip: false, maxRotation: 0, minRotation: 0, padding: s.xPad || 8,
                    align: s.xAlign || 'center', font: TICK_FONT, color: '#000',
                    callback: s.xLabels ? labeler(s.xTicks, s.xLabels) : () => ''}},
        y: {type: 'linear', position: right ? 'right' : 'left', min: s.yMin, max: s.yMax,
            grid: {display: false, drawTicks: false}, border: {display: false},
            afterBuildTicks: sc => { sc.ticks = s.yTicks.map(v => ({value: v})); },
            afterFit: sc => { sc.width = right ? cv.r - box.r : box.l - cv.l; },
            ticks: {autoSkip: false, padding: s.yPad || 13, font: TICK_FONT, color: '#000', callback: labeler(s.yTicks, s.yLabels)},
            title: {display: true, text: s.yTitle, font: AXIS_FONT, color: '#000', padding: 0}}
      }
    },
    plugins: [boxPlugin]
  });
}

const LW = 3.5, TW = 3.5, RW = 4.5, GW = 3, BW = 4.5;

// ---- dataset groups (bottom to top) ----
const apLLlines = [L(apLL_blue1,BLUE,LW),L(apLL_blue2,BLUE,LW),L(apLL_blue3,BLUE,LW),L(apLL_blue4,BLUE,LW),
  L(apLL_grn1,GREEN,GW),L(apLL_grn2,GREEN,GW),L(apLL_grn3,GREEN,GW),L(apLL_grn4,GREEN,GW),
  L(apLL_red1,RED,4),L(apLL_red2,RED,4),L(apLL_red3,RED,4),L(apLL_mag,MAG,4)];
const apTlines = [L(apT_blue1,BLUE,TW),L(apT_blue2,BLUE,TW),L(apT_blue3,BLUE,TW),L(apT_blue4,BLUE,TW),
  L(apT_grn1,GREEN,GW),L(apT_grn2,GREEN,GW),L(apT_grn3,GREEN,GW),L(apT_grn4,GREEN,GW),
  L(apT_red1,RED,TW),L(apT_red2,RED,TW),L(apT_red3,RED,TW),L(apT_mag,MAG,4)];
const apRlines = [L(apR_blue1,BLUE,RW),L(apR_blue2,BLUE,RW),L(apR_blue3,BLUE,RW),L(apR_blue4,BLUE,RW),
  L(apR_grn1,GREEN,GW),L(apR_grn2,GREEN,GW),L(apR_grn3,GREEN,GW),L(apR_grn4,GREEN,GW),
  L(apR_mag1,MAG,RW),L(apR_mag2,MAG,RW),
  L(apR_red1,RED,RW),L(apR_red2,RED,RW),L(apR_red3,RED,RW),L(apR_red4,RED,RW)];

// Associated Press
mk({cv:{l:82,t:148,r:900,b:506}, box:{l:226,t:178,r:874,b:476}, xMin:0, xMax:1000, xTicks:apSecsTicks,
    yMin:-8.5, yMax:-7.8, yTicks:apLLTicks, yLabels:apLLLabels, yTitle:'HOW Log Like.',
    ds:[...apLLlines, M(apLL_blueMk,sqB), M(apLL_grnMk,ciG), M(apLL_redMk,diR), M(apLL_magMk,sqM)]});
mk({cv:{l:82,t:470,r:900,b:880}, box:{l:226,t:500,r:874,b:797}, xMin:0, xMax:1000, xTicks:apSecsTicks, xLabels:apSecsLabels, xAlign:'inner', xPad:8,
    yMin:0, yMax:100, yTicks:apTopTicks, yLabels:apTopLabels, yTitle:'Num. Topics',
    ds:[...apTlines, M(apT_blueMk,sqB), M(apT_grnMk,ciG), M(apT_redMk,diR), M(apT_magMk,sqM)]});
mk({cv:{l:886,t:148,r:1718,b:880}, box:{l:916,t:178,r:1580,b:797}, yPos:'right', xMin:0, xMax:100, xTicks:apTopicsXTicks, xLabels:apTopicsXLabels, xPad:8,
    yMin:-8.5, yMax:-7.8, yTicks:apLLTicks, yLabels:apLLLabels, yTitle:'HOW Log Likelihood', yPad:12,
    ds:[...apRlines, M(apR_startMk,sqMR), M(apR_startMk,diRs)]});

// Associated Press switching
mk({cv:{l:1809,t:148,r:2625,b:506}, box:{l:1954,t:178,r:2602,b:476}, xMin:0, xMax:2000, xTicks:apsSecsTicks,
    yMin:-8.5, yMax:-7.8, yTicks:apLLTicks, yLabels:apLLLabels, yTitle:'HOW Log Like.',
    ds:[...apLLlines, L(apsLL_post_blue,BLUE,LW), L(apsLL_post_red1,RED,4), L(apsLL_post_red2,RED,4), L(apsLL_post_red3,RED,4), L(apsLL_post_red4,RED,4), L(apsLL_post_red5,RED,4),
        M(apsLL_blueMk,sqB), M(apsLL_grnMk,ciG), M(apsLL_magMk,sqM), M(apsLL_redMk,diR), M(apsLL_blueFMk,sqBF)]});
mk({cv:{l:1809,t:470,r:2625,b:880}, box:{l:1954,t:500,r:2602,b:797}, xMin:0, xMax:2000, xTicks:apsSecsTicks, xLabels:apsSecsLabels, xAlign:'inner', xPad:8,
    yMin:0, yMax:100, yTicks:apTopTicks, yLabels:apTopLabels, yTitle:'Num. Topics',
    ds:[...apTlines, L(apsT_post_blue,BLUE,TW), L(apsT_post_red1,RED,TW), L(apsT_post_red2,RED,TW), L(apsT_post_red3,RED,TW), L(apsT_post_red4,RED,TW), L(apsT_post_red5,RED,TW), L(apsT_post_red6,RED,TW), L(apsT_post_red7,RED,TW),
        M(apsT_blueMk,sqB), M(apsT_grnMk,ciG), M(apsT_magMk,sqM), M(apsT_redMk,diR), M(apsT_blueFMk,sqBF)]});
mk({cv:{l:2613,t:148,r:3449,b:880}, box:{l:2643,t:178,r:3308,b:797}, yPos:'right', xMin:0, xMax:100, xTicks:apTopicsXTicks, xLabels:apTopicsXLabels, xPad:8,
    yMin:-8.5, yMax:-7.8, yTicks:apLLTicks, yLabels:apLLLabels, yTitle:'HOW Log Likelihood', yPad:12,
    ds:[...apRlines, L(apsR_red5,RED,RW), L(apsR_red6,RED,RW), L(apsR_red7,RED,RW), L(apsR_red8,RED,RW), L(apsR_red9,RED,RW), L(apsR_red10,RED,RW),
        M(apR_startMk,sqMR), M(apR_startMk,diR)]});

// Enron
mk({cv:{l:82,t:999,r:900,b:1338}, box:{l:216,t:1029,r:877,b:1308}, xType:'logarithmic', xMin:0.1, xMax:100000, xTicks:logTicks,
    yMin:-8.75, yMax:-7.6, yTicks:enLLTicks, yLabels:enLLLabels, yTitle:'HOW Log Like.',
    ds:[L(enLL_blue1,BLUE,BW),L(enLL_blue2,BLUE,BW),L(enLL_grn1,GREEN,BW),L(enLL_grn2,GREEN,BW),L(enLL_red1,RED,BW),L(enLL_red2,RED,BW),
        M(enLL_grnMk,ciG), M(enLL_redMk,diR), M(enLL_blueMk,sqB)]});
mk({cv:{l:82,t:1334,r:900,b:1736}, box:{l:216,t:1364,r:877,b:1644}, xType:'logarithmic', xMin:0.1, xMax:100000, xTicks:logTicks, xLabels:logLabels, xAlign:'inner', xPad:19,
    yMin:0, yMax:200, yTicks:bigTopTicks, yLabels:bigTopLabels, yTitle:'Num. Topics',
    ds:[L(enT_blue1,BLUE,BW),L(enT_blue2,BLUE,BW),L(enT_grn1,GREEN,BW),L(enT_grn2,GREEN,BW),L(enT_red1,RED,BW),L(enT_red2,RED,BW),
        M(enT_grnMk,ciG), M(enT_redMk,diR), M(enT_blueMk,sqB)]});
mk({cv:{l:886,t:999,r:1718,b:1736}, box:{l:916,t:1029,r:1579,b:1645}, yPos:'right', xMin:0, xMax:200, xTicks:bigTopicsXTicks, xLabels:bigTopicsXLabels, xPad:19,
    yMin:-8.75, yMax:-7.6, yTicks:enLLTicks, yLabels:enLLLabels, yTitle:'HOW Log Likelihood', yPad:12,
    ds:[L(enR_blueA,BLUE,RW),L(enR_blueB,BLUE,RW),L(enR_grnA,GREEN,GW),L(enR_grnB,GREEN,RW),L(enR_redA,RED,RW),L(enR_redB,RED,RW),
        M(enR_startMk,sqBR), M(enR_startMk,diR)]});

// New York Times
mk({cv:{l:1809,t:999,r:2625,b:1338}, box:{l:1943,t:1029,r:2605,b:1308}, xType:'logarithmic', xMin:0.1, xMax:100000, xTicks:logTicks,
    yMin:-9.4, yMax:-8.55, yTicks:nyLLTicks, yLabels:nyLLLabels, yTitle:'HOW Log Like.',
    ds:[L(nyLL_blue1,BLUE,BW),L(nyLL_blue2,BLUE,BW),L(nyLL_grn1,GREEN,BW),L(nyLL_grn2,GREEN,BW),L(nyLL_red1,RED,BW),L(nyLL_red2,RED,BW),
        M(nyLL_grnMk,ciG), M(nyLL_redMk,diR), M(nyLL_blueMk,sqB)]});
mk({cv:{l:1809,t:1334,r:2625,b:1736}, box:{l:1943,t:1364,r:2605,b:1644}, xType:'logarithmic', xMin:0.1, xMax:100000, xTicks:logTicks, xLabels:logLabels, xAlign:'inner', xPad:19,
    yMin:0, yMax:200, yTicks:bigTopTicks, yLabels:bigTopLabels, yTitle:'Num. Topics',
    ds:[L(nyT_blue1,BLUE,BW),L(nyT_blue2,BLUE,BW),L(nyT_grn1,GREEN,BW),L(nyT_grn2,GREEN,BW),L(nyT_red1,RED,BW),L(nyT_red2,RED,BW),
        M(nyT_grnMk,ciG), M(nyT_redMk,diR), M(nyT_blueMk,sqB)]});
mk({cv:{l:2613,t:999,r:3449,b:1736}, box:{l:2643,t:1029,r:3308,b:1645}, yPos:'right', xMin:0, xMax:200, xTicks:bigTopicsXTicks, xLabels:bigTopicsXLabels, xPad:19,
    yMin:-9.4, yMax:-8.55, yTicks:nyLLTicks, yLabels:nyLLLabels, yTitle:'HOW Log Likelihood', yPad:12,
    ds:[L(nyR_blueA,BLUE,RW),L(nyR_blueB,BLUE,RW),L(nyR_grnA,GREEN,RW),L(nyR_grnB,GREEN,RW),L(nyR_redA,RED,RW),L(nyR_redB,RED,RW),
        M(nyR_startMk,sqBR), M(nyR_startMk,diR)]});
</script>
</body></html>
